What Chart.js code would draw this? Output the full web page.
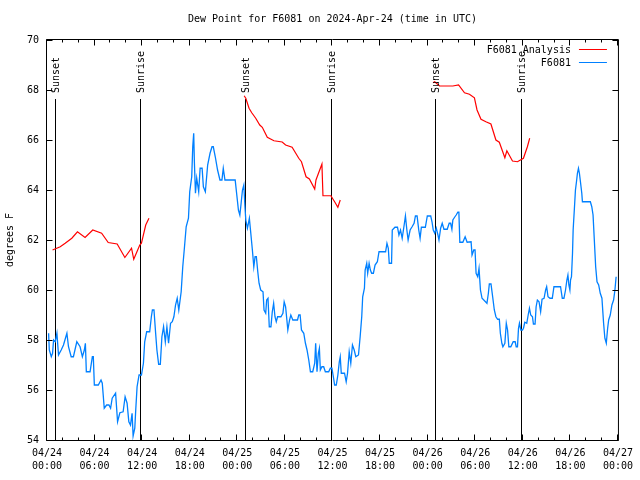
<!DOCTYPE html>
<html>
  <head>
    <title>Dew Point for F6081</title>
    <style>
      body { margin: 0; background: #fff; }
    </style>
  </head>
  <body>
    <canvas id="dewChart" width="640" height="480"></canvas>

    <script src="https://cdn.jsdelivr.net/npm/chart.js@4/dist/chart.umd.min.js"></script>
    <script>
      // hours since 04/24 00:00 UTC
      const stationHours = [
        0.20, 0.29, 0.54, 0.70, 0.83, 1.04, 1.25, 1.45, 1.79, 2.08, 2.38, 2.51, 2.71, 3.05, 3.33, 3.76,
        4.17, 4.46, 4.71, 4.84, 4.96, 5.43, 5.72, 5.84, 5.97, 6.47, 6.81, 6.97, 7.22, 7.52, 7.81, 8.02,
        8.22, 8.65, 8.90, 9.19, 9.60, 9.85, 10.10, 10.32, 10.53, 10.73, 10.86, 11.07, 11.19, 11.36, 11.61, 11.91,
        12.16, 12.32, 12.57, 12.95, 13.16, 13.29, 13.49, 13.70, 13.86, 14.08, 14.29, 14.49, 14.70, 14.92, 15.12, 15.33,
        15.58, 15.80, 16.00, 16.21, 16.42, 16.62, 16.92, 17.12, 17.34, 17.55, 17.84, 18.00, 18.25, 18.38, 18.50, 18.59,
        18.72, 18.88, 19.13, 19.31, 19.56, 19.72, 19.97, 20.26, 20.56, 20.81, 20.97, 21.22, 21.51, 21.81, 22.06, 22.23,
        22.44, 23.73, 23.89, 24.14, 24.32, 24.48, 24.65, 24.82, 24.95, 25.07, 25.27, 25.40, 25.52, 25.70, 25.90, 26.08,
        26.24, 26.40, 26.58, 26.74, 26.95, 27.24, 27.37, 27.58, 27.70, 27.87, 28.03, 28.24, 28.41, 28.58, 28.75, 28.91,
        29.08, 29.50, 29.75, 29.91, 30.09, 30.25, 30.37, 30.59, 30.75, 31.00, 31.59, 31.75, 31.92, 32.09, 32.38, 32.59,
        32.79, 33.01, 33.22, 33.51, 33.76, 33.88, 34.05, 34.22, 34.35, 34.47, 34.67, 34.89, 35.10, 35.52, 35.73, 35.93,
        36.14, 36.27, 36.48, 36.68, 36.86, 36.98, 37.11, 37.52, 37.73, 37.90, 38.11, 38.31, 38.52, 38.74, 38.94, 39.28,
        39.49, 39.69, 39.81, 40.03, 40.12, 40.32, 40.44, 40.62, 40.78, 40.94, 41.16, 41.37, 41.66, 41.87, 42.70, 42.87,
        43.04, 43.16, 43.45, 43.54, 43.88, 44.20, 44.38, 44.58, 44.79, 45.04, 45.20, 45.38, 45.54, 45.79, 46.04, 46.29,
        46.46, 46.67, 46.88, 47.05, 47.21, 47.71, 47.96, 48.39, 48.55, 48.71, 48.89, 49.09, 49.30, 49.43, 49.64, 49.84,
        50.06, 50.47, 50.72, 50.90, 51.06, 51.18, 51.40, 51.60, 51.81, 51.94, 52.06, 52.44, 52.73, 52.98, 53.48, 53.60,
        53.82, 53.98, 54.11, 54.32, 54.48, 54.66, 54.86, 55.48, 55.66, 55.78, 55.99, 56.20, 56.41, 56.61, 56.83, 57.04,
        57.17, 57.36, 57.49, 57.74, 57.92, 58.08, 58.24, 58.49, 58.79, 59.04, 59.17, 59.33, 59.46, 59.58, 59.75, 59.96,
        60.09, 60.25, 60.50, 60.68, 60.84, 61.00, 61.22, 61.34, 61.55, 61.68, 61.84, 62.05, 62.25, 62.43, 62.68, 62.88,
        63.01, 63.18, 63.43, 63.72, 63.93, 64.76, 64.98, 65.19, 65.39, 65.56, 65.69, 65.81, 65.94, 66.02, 66.14, 66.27,
        66.35, 66.52, 66.64, 66.77, 66.89, 67.02, 67.14, 67.27, 67.44, 67.52, 68.52, 68.70, 68.86, 69.02, 69.19, 69.36,
        69.57, 69.77, 69.98, 70.19, 70.35, 70.53, 70.70, 70.83, 71.03, 71.24, 71.45, 71.62, 71.77
      ];
      const stationDew = [
        58.27, 57.6, 57.33, 57.47, 58.0, 57.93, 58.27, 57.4, 57.6, 57.8, 58.13, 58.27, 57.73, 57.33, 57.33, 57.93,
        57.73, 57.33, 57.6, 57.87, 56.73, 56.73, 57.33, 57.33, 56.2, 56.2, 56.4, 56.27, 55.27, 55.4, 55.4, 55.27,
        55.67, 55.87, 54.73, 55.09, 55.13, 55.73, 55.47, 54.73, 54.6, 55.07, 54.16, 54.47, 55.2, 56.13, 56.6, 56.6,
        57.07, 57.93, 58.33, 58.33, 58.93, 59.2, 59.2, 58.27, 57.6, 57.03, 57.03, 58.13, 58.53, 57.93, 58.53, 57.87,
        58.67, 58.73, 58.93, 59.4, 59.67, 59.2, 59.93, 60.93, 61.73, 62.53, 62.87, 63.93, 64.53, 65.73, 66.27, 65.07,
        63.87, 64.47, 63.93, 64.87, 64.87, 64.13, 63.93, 65.0, 65.47, 65.73, 65.73, 65.33, 64.8, 64.4, 64.4, 64.87,
        64.4, 64.4, 63.93, 63.2, 63.0, 63.47, 64.0, 64.2, 63.4, 62.8, 62.47, 62.67, 62.87, 62.27, 61.6, 60.93,
        61.33, 61.33, 60.73, 60.27, 60.0, 59.93, 59.2, 59.07, 59.6, 59.67, 58.53, 58.53, 59.13, 59.47, 58.93, 58.73,
        58.93, 58.93, 59.07, 59.53, 59.33, 58.8, 58.4, 58.8, 59.0, 58.8, 58.8, 59.0, 59.0, 58.4, 58.27, 57.87,
        57.6, 57.2, 56.73, 56.73, 57.07, 57.87, 56.73, 57.47, 57.67, 56.8, 56.93, 56.93, 56.73, 56.73, 56.87, 56.87,
        56.47, 56.2, 56.2, 56.6, 57.13, 57.33, 56.67, 56.67, 56.33, 56.67, 57.53, 57.07, 57.8, 57.6, 57.33, 57.4,
        58.13, 58.93, 59.73, 60.07, 60.8, 61.07, 60.67, 61.07, 60.8, 60.67, 60.67, 61.0, 61.13, 61.53, 61.53, 61.87,
        61.67, 61.07, 61.07, 62.4, 62.51, 62.51, 62.2, 62.4, 62.07, 62.6, 62.96, 62.4, 62.0, 62.4, 62.53, 62.67,
        62.96, 62.96, 62.4, 62.07, 62.51, 62.51, 62.96, 62.96, 62.73, 62.4, 62.27, 62.47, 62.2, 62.0, 62.47, 62.67,
        62.43, 62.43, 62.67, 62.67, 62.43, 62.8, 62.91, 63.0, 63.11, 63.11, 61.91, 61.91, 62.13, 61.91, 61.93, 61.4,
        61.6, 61.6, 60.67, 60.53, 60.87, 60.0, 59.67, 59.47, 59.87, 60.24, 60.24, 59.73, 59.2, 58.93, 58.83, 58.83,
        58.27, 57.87, 57.73, 57.87, 58.67, 58.4, 57.73, 57.73, 57.93, 57.93, 57.73, 57.73, 58.47, 58.67, 58.4, 58.4,
        58.47, 58.71, 58.67, 59.0, 59.27, 59.0, 58.93, 58.64, 58.64, 59.33, 59.6, 59.53, 59.13, 59.63, 59.67, 60.0,
        60.13, 59.73, 59.67, 59.67, 60.13, 60.13, 59.67, 59.67, 60.0, 60.4, 60.6, 60.2, 60.0, 60.4, 60.53, 61.47,
        62.4, 63.33, 64.0, 64.33, 64.67, 64.87, 64.67, 64.33, 63.87, 63.53, 63.53, 63.33, 63.0, 62.0, 60.93, 60.33,
        60.2, 59.87, 59.67, 58.67, 58.07, 57.87, 58.47, 58.8, 59.0, 59.4, 59.6, 60.0, 60.53
      ];

      // analysis runs, null = no analysis between runs
      const analysisHours = [
        0.70, 1.67, 2.29, 3.13, 3.84, 4.80, 5.77, 6.89, 7.72, 8.85, 9.82, 10.66, 10.94, 11.70, 11.91, 12.45, 12.86,
        18.0,
        24.86, 25.07, 25.48, 25.82, 26.32, 26.83, 27.15, 27.78, 28.62, 29.66, 30.09, 30.91, 31.75, 32.09, 32.67, 33.09,
        33.76, 33.92, 34.67, 34.80, 35.80, 36.27, 36.68, 36.98,
        42.0,
        48.68, 48.89, 49.51, 51.18, 51.90, 52.65, 53.27, 53.90, 54.23, 54.73, 55.35, 55.98, 56.61, 57.04, 57.74, 57.99,
        58.70, 59.33, 60.08, 60.58, 60.87
      ];
      const analysisDew = [
        61.6, 61.73, 61.87, 62.07, 62.33, 62.1, 62.4, 62.27, 61.9, 61.84, 61.3, 61.67, 61.23, 61.8, 61.87, 62.6, 62.87,
        null,
        67.77, 67.67, 67.27, 67.09, 66.87, 66.6, 66.51, 66.11, 65.97, 65.92, 65.8, 65.71, 65.27, 65.13, 64.53, 64.44,
        64.04, 64.4, 65.04, 63.77, 63.77, 63.53, 63.31, 63.6,
        null,
        68.29, 68.33, 68.16, 68.16, 68.2, 67.89, 67.83, 67.69, 67.2, 66.83, 66.73, 66.64, 66.0, 65.91, 65.29, 65.57,
        65.16, 65.13, 65.27, 65.73, 66.07
      ];

      const sunsetHours = [0.95, 25.0, 48.98];
      const sunriseHours = [11.73, 35.79, 59.77];
      const sunLineTop = 67.65;

      const dayLabels = ["04/24", "04/25", "04/26", "04/27"];
      const titleText = "Dew Point for F6081 on 2024-Apr-24 (time in UTC)";

      const stationPoints = stationHours.map((h, i) => ({ x: h, y: stationDew[i] }));
      const analysisPoints = analysisHours.map((h, i) => ({ x: h, y: analysisDew[i] }));

      const sunEvents = sunsetHours
        .map((h) => ({ h: h, label: "Sunset" }))
        .concat(sunriseHours.map((h) => ({ h: h, label: "Sunrise" })))
        .sort((a, b) => a.h - b.h);

      Chart.defaults.font.family = "'DejaVu Sans Mono', monospace";
      Chart.defaults.font.size = 10;
      Chart.defaults.color = "#000";

      // sun lines under the data, crisp like gnuplot arrows
      const sunLines = {
        id: "sunLines",
        beforeDatasetsDraw(chart) {
          const ctx = chart.ctx;
          const xs = chart.scales.x;
          const ys = chart.scales.y;
          ctx.save();
          ctx.strokeStyle = "#000";
          ctx.lineWidth = 1;
          ctx.beginPath();
          sunEvents.forEach((e) => {
            const px = Math.round(xs.getPixelForValue(e.h)) + 0.5;
            ctx.moveTo(px, Math.round(ys.getPixelForValue(54)));
            ctx.lineTo(px, Math.round(ys.getPixelForValue(sunLineTop)));
          });
          ctx.stroke();
          ctx.restore();
        },
      };

      // gnuplot-like frame, inward tics, sun labels, title and legend
      const gnuplotBits = {
        id: "gnuplotBits",
        afterDatasetsDraw(chart) {
          const ctx = chart.ctx;
          const xs = chart.scales.x;
          const ys = chart.scales.y;
          const a = chart.chartArea;
          ctx.save();
          ctx.strokeStyle = "#000";
          ctx.lineWidth = 1;

          const L = a.left - 0.5, R = a.right + 0.5, T = a.top - 0.5, B = a.bottom + 0.5;
          ctx.beginPath();
          ctx.rect(L, T, R - L, B - T);
          ctx.stroke();

          ctx.beginPath();
          for (let h = 0; h <= 72; h += 2) {
            const px = Math.round(xs.getPixelForValue(h)) - 0.5;
            const len = h % 6 === 0 ? 6 : 3;
            ctx.moveTo(px, B);
            ctx.lineTo(px, B - len);
            ctx.moveTo(px, T);
            ctx.lineTo(px, T + len);
          }
          for (let v = 54; v <= 70; v += 2) {
            const py = Math.round(ys.getPixelForValue(v)) + 0.5;
            ctx.moveTo(L, py);
            ctx.lineTo(L + 6, py);
            ctx.moveTo(R, py);
            ctx.lineTo(R - 6, py);
          }
          ctx.stroke();

          ctx.fillStyle = "#000";
          ctx.font = "10px 'DejaVu Sans Mono', monospace";
          ctx.textBaseline = "middle";

          ctx.textAlign = "center";
          ctx.fillText(titleText, (a.left + a.right) / 2, 19);

          sunEvents.forEach((e) => {
            const px = Math.round(xs.getPixelForValue(e.h)) + 1.5;
            const py = Math.round(ys.getPixelForValue(sunLineTop)) - 6;
            ctx.save();
            ctx.translate(px, py);
            ctx.rotate(-Math.PI / 2);
            ctx.textAlign = "left";
            ctx.fillText(e.label, 0, 0);
            ctx.restore();
          });

          const items = [
            { text: "F6081 Analysis", color: "#ff0000" },
            { text: "F6081", color: "rgb(0,128,255)" },
          ];
          items.forEach((it, i) => {
            const y = a.top + 10 + i * 13;
            ctx.textAlign = "right";
            ctx.fillText(it.text, a.right - 47, y);
            ctx.strokeStyle = it.color;
            ctx.beginPath();
            ctx.moveTo(a.right - 39, y - 0.5);
            ctx.lineTo(a.right - 11, y - 0.5);
            ctx.stroke();
          });
          ctx.restore();
        },
      };

      new Chart(document.getElementById("dewChart").getContext("2d"), {
        type: "line",
        data: {
          datasets: [
            {
              label: "F6081",
              data: stationPoints,
              borderColor: "rgb(0,128,255)",
              borderWidth: 1.3,
              pointRadius: 0,
              tension: 0,
            },
            {
              label: "F6081 Analysis",
              data: analysisPoints,
              borderColor: "#ff0000",
              borderWidth: 1.2,
              pointRadius: 0,
              tension: 0,
              spanGaps: false,
            },
          ],
        },
        options: {
          responsive: false,
          animation: false,
          devicePixelRatio: 1,
          layout: { padding: { left: 0, right: 19, top: 40, bottom: 0 } },
          plugins: {
            legend: { display: false },
            tooltip: { enabled: false },
            title: { display: false },
          },
          scales: {
            x: {
              type: "linear",
              min: 0,
              max: 72,
              grid: { display: false, drawTicks: false },
              border: { display: false },
              ticks: {
                stepSize: 6,
                autoSkip: false,
                maxRotation: 0,
                padding: 7,
                font: { size: 10, lineHeight: 1.3 },
                callback: (v) => {
                  const d = dayLabels[Math.floor(v / 24)];
                  const hh = String(v % 24).padStart(2, "0");
                  return [d, hh + ":00"];
                },
              },
              afterFit: (s) => {
                s.height = 40;
              },
            },
            y: {
              min: 54,
              max: 70,
              grid: { display: false, drawTicks: false },
              border: { display: false },
              ticks: { stepSize: 2, padding: 8 },
              title: {
                display: true,
                text: "degrees F",
                font: { size: 10, lineHeight: 1.2 },
                padding: { top: 4, bottom: 0 },
              },
              afterFit: (s) => {
                s.width = 47;
              },
            },
          },
        },
        plugins: [sunLines, gnuplotBits],
      });
    </script>
  </body>
</html>
